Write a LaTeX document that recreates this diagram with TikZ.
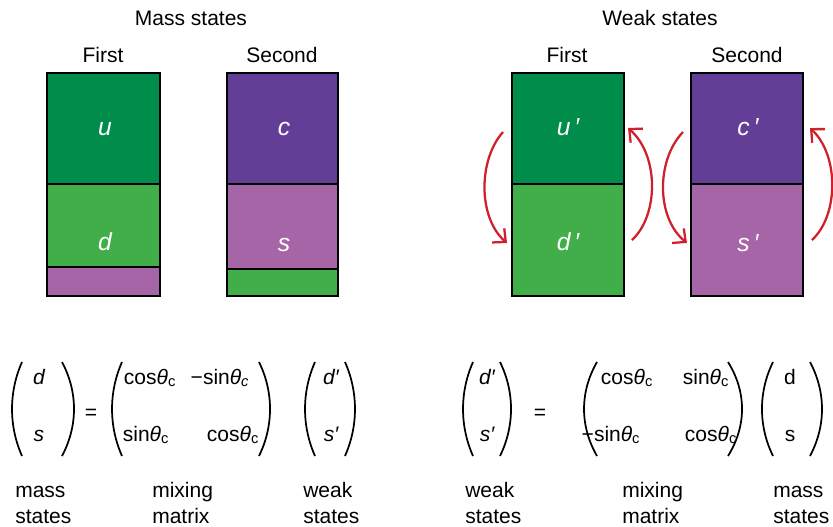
\documentclass[tikz,border=0pt]{standalone}
\usepackage{fontspec}
\setmainfont{Liberation Sans}
\usetikzlibrary{arrows.meta}
\definecolor{quarkdark}{RGB}{0,140,75}
\definecolor{quarklight}{RGB}{65,174,74}
\definecolor{quarkpurple}{RGB}{99,62,150}
\definecolor{quarkpink}{RGB}{166,101,166}
\definecolor{mixred}{RGB}{206,33,44}
\newcommand{\thc}{{\itshape θ}\textsubscript{c}}
\newcommand{\thci}{{\itshape θ\textsubscript{c}}}
\begin{document}
\begin{tikzpicture}[x=0.75pt,y=0.75pt,yscale=-1,xscale=1,
  lbl/.style={font=\fontsize{15.75}{19}\selectfont, inner sep=0pt, anchor=base},
  side/.style={font=\fontsize{15.75}{19}\selectfont, inner sep=0pt, anchor=base west},
  qk/.style={font=\fontsize{18.5}{22}\selectfont\itshape, text=white, inner sep=0pt, anchor=base},
  cell/.style={draw=black, line width=1.3pt},
  mix/.style={color=mixred, line width=1.7pt, -{Straight Barb[length=7.5pt,width=14pt]}},
  paren/.style={line width=1.3pt}]
\useasboundingbox (0,0) rectangle (833,526);
% Titles
\draw (191,25) node (mtitle) [lbl] {Mass states};
\draw (660,25) node (wtitle) [lbl] {Weak states};
\draw (103,62) node (mfirst) [lbl] {First};
\draw (282,62) node (msecond) [lbl] {Second};
\draw (567,62) node (wfirst) [lbl] {First};
\draw (747,62) node (wsecond) [lbl] {Second};
% Mass state cells
\draw [cell, fill=quarkdark] (47,73) rectangle (160,184);
\draw [cell, fill=quarklight] (47,184) rectangle (160,267);
\draw [cell, fill=quarkpink] (47,267) rectangle (160,296);
\draw [cell, fill=quarkpurple] (227,73) rectangle (338,184);
\draw [cell, fill=quarkpink] (227,184) rectangle (338,269);
\draw [cell, fill=quarklight] (227,269) rectangle (338,296);
% Weak state cells
\draw [cell, fill=quarkdark] (512,73) rectangle (624,184);
\draw [cell, fill=quarklight] (512,184) rectangle (624,296);
\draw [cell, fill=quarkpurple] (691,73) rectangle (803,184);
\draw [cell, fill=quarkpink] (691,184) rectangle (803,296);
% Quark letters
\draw (105,135) node (mu) [qk] {u};
\draw (105,250) node (md) [qk] {d};
\draw (284,135) node (mc) [qk] {c};
\draw (284,251) node (ms) [qk] {s};
\draw (568,135) node (wu) [qk] {u\,′};
\draw (568,250) node (wd) [qk] {d\,′};
\draw (748,135) node (wc) [qk] {c\,′};
\draw (748,251) node (ws) [qk] {s\,′};
% Mixing arrows
\coordinate (fa) at (503,132);
\coordinate (fb) at (507,243);
\coordinate (fc) at (632,240);
\coordinate (fd) at (628,128);
\coordinate (sa) at (683,132);
\coordinate (sb) at (687,243);
\coordinate (sc) at (812,240);
\coordinate (sd) at (810,128);
\draw [mix] (fa) .. controls (478,160) and (478,218) .. (fb);
\draw [mix] (fc) .. controls (659,215) and (659,155) .. (fd);
\draw [mix] (sa) .. controls (656,160) and (656,218) .. (sb);
\draw [mix] (sc) .. controls (839,215) and (839,155) .. (sd);
% Brackets
\foreach \xe/\xc in {22/8.7, 62/78, 122/108.7, 259/273.7, 315/301.7, 345/358.3,
                     473/459.7, 500/514.7, 597/579.7, 728/746.7, 773/758.3, 810/826}
  \draw [paren] (\xe,362) .. controls (\xc,392) and (\xc,426) .. (\xe,456);
% Left equation
\draw (39,384) node (ld) [lbl] {\itshape d};
\draw (39,441) node (ls) [lbl] {\itshape s};
\draw (91,414) node (leq) [font=\fontsize{15.75}{19}\selectfont, inner sep=0pt] {=};
\draw (150,384) node (la) [lbl] {cos\thc};
\draw (220,384) node (lb) [lbl] {−sin\thci};
\draw (146,441) node (lc) [lbl] {sin\thc};
\draw (233,441) node (le) [lbl] {cos\thc};
\draw (331,384) node (ldw) [lbl] {\itshape d′};
\draw (331,441) node (lsw) [lbl] {\itshape s′};
\draw (15,497) node (lm1) [side] {mass};
\draw (15,523) node (lm2) [side] {states};
\draw (152,497) node (lx1) [side] {mixing};
\draw (152,523) node (lx2) [side] {matrix};
\draw (303,497) node (lw1) [side] {weak};
\draw (303,523) node (lw2) [side] {states};
% Right equation
\draw (487,384) node (rdw) [lbl] {\itshape d′};
\draw (487,441) node (rsw) [lbl] {\itshape s′};
\draw (540,414) node (req) [font=\fontsize{15.75}{19}\selectfont, inner sep=0pt] {=};
\draw (627,384) node (ra) [lbl] {cos\thc};
\draw (706,384) node (rb) [lbl] {sin\thc};
\draw (611,441) node (rc) [lbl] {−sin\thc};
\draw (711,441) node (re) [lbl] {cos\thc};
\draw (790,384) node (rd) [lbl] {d};
\draw (790,441) node (rs) [lbl] {s};
\draw (465,497) node (rw1) [side] {weak};
\draw (465,523) node (rw2) [side] {states};
\draw (622,497) node (rx1) [side] {mixing};
\draw (622,523) node (rx2) [side] {matrix};
\draw (773,497) node (rm1) [side] {mass};
\draw (773,523) node (rm2) [side] {states};
\end{tikzpicture}
\end{document}
